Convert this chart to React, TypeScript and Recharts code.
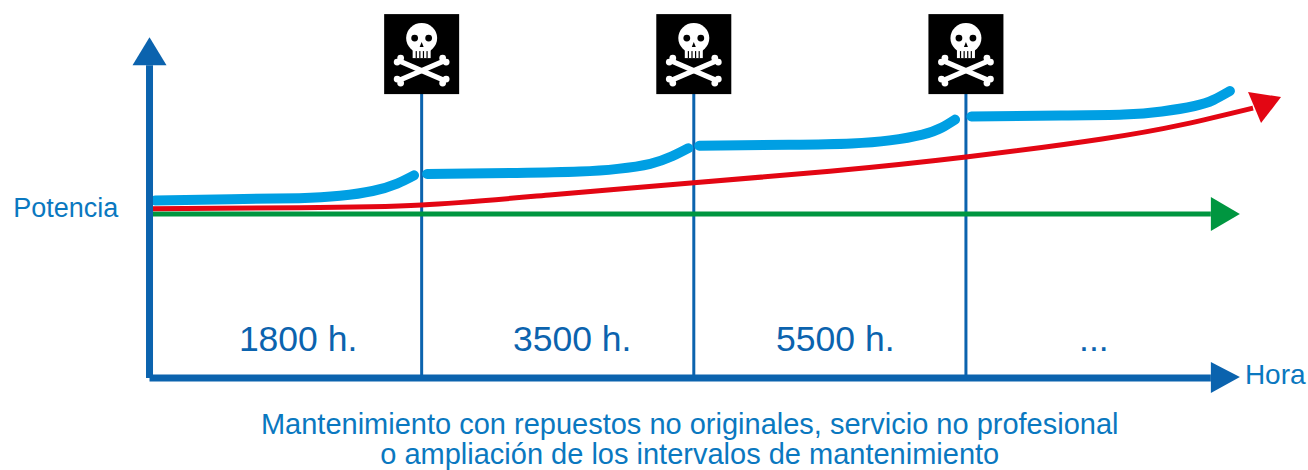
import React from "react";
import { ComposedChart, Line, XAxis, YAxis, ReferenceDot } from "recharts";

// x: maintenance periods (0 = start, each unit = one interval); y: power index
const blue1 = [
  { x: 0.02, y: 52.2 }, { x: 0.3, y: 52.6 }, { x: 0.55, y: 52.9 }, { x: 0.7, y: 53.6 },
  { x: 0.82, y: 55.0 }, { x: 0.91, y: 57.2 }, { x: 0.972, y: 59.6 },
];
const blue2 = [
  { x: 1.02, y: 60.0 }, { x: 1.35, y: 60.3 }, { x: 1.58, y: 60.7 }, { x: 1.72, y: 61.5 },
  { x: 1.84, y: 63.0 }, { x: 1.92, y: 65.2 }, { x: 1.98, y: 67.6 },
];
const blue3 = [
  { x: 2.02, y: 68.3 }, { x: 2.35, y: 68.6 }, { x: 2.58, y: 69.0 }, { x: 2.72, y: 69.9 },
  { x: 2.84, y: 71.6 }, { x: 2.91, y: 73.6 }, { x: 2.96, y: 76.0 },
];
const blue4 = [
  { x: 3.02, y: 76.9 }, { x: 3.35, y: 77.2 }, { x: 3.58, y: 77.5 }, { x: 3.72, y: 78.4 },
  { x: 3.84, y: 80.0 }, { x: 3.91, y: 81.8 }, { x: 3.97, y: 84.4 },
];
const red = [
  { x: 0, y: 49.8 }, { x: 0.55, y: 50.1 }, { x: 1.0, y: 50.9 }, { x: 1.48, y: 53.9 },
  { x: 2.0, y: 57.4 }, { x: 2.5, y: 60.8 }, { x: 3.0, y: 65.0 }, { x: 3.5, y: 70.3 },
  { x: 3.8, y: 74.6 }, { x: 4.055, y: 79.4 },
];
const green = [{ x: 0, y: 48.2 }, { x: 3.9, y: 48.2 }];
const axisX = [{ x: 0, y: 0 }, { x: 3.9, y: 0 }];
const axisY = [{ x: 0, y: 0 }, { x: 0, y: 92 }];
const periods = [1, 2, 3];
const periodLabels = ["1800 h.", "3500 h.", "5500 h.", "..."];
const periodLabelX = [0.546, 1.553, 2.52, 3.47];
const yLabel = "Potencia";
const xLabel = "Hora";
const captionLines = [
  "Mantenimiento con repuestos no originales, servicio no profesional",
  "o ampliación de los intervalos de mantenimiento",
];

const AXIS = "#0b63ae";
const TEXT = "#0a78c0";
const BLUE = "#009fe3";
const RED = "#e30613";
const GREEN = "#009640";
const FONT = "'Liberation Sans', Arial, sans-serif";

const tri = (pts: string, fill: string) => (p: any) => (
  <polygon transform={`translate(${p.cx},${p.cy})`} points={pts} fill={fill} />
);

const txt = (value: string, size: number, anchor: string, fill = TEXT) => (p: any) => (
  <text x={p.cx} y={p.cy} fontSize={size} textAnchor={anchor} fill={fill} fontFamily={FONT}>
    {value}
  </text>
);

const Skull = (p: any) => (
  <g transform={`translate(${p.cx},${p.cy})`}>
    <rect x={-37.5} y={-80} width={75} height={80} fill="#000" />
    <g stroke="#fff" strokeWidth={5} strokeLinecap="round">
      <line x1={-22} y1={-33} x2={22} y2={-14} />
      <line x1={22} y1={-33} x2={-22} y2={-14} />
    </g>
    <g fill="#fff">
      <circle cx={-21} cy={-36} r={3.4} />
      <circle cx={-24.5} cy={-32} r={3.4} />
      <circle cx={21} cy={-36} r={3.4} />
      <circle cx={24.5} cy={-32} r={3.4} />
      <circle cx={-24.5} cy={-15} r={3.4} />
      <circle cx={-21} cy={-11} r={3.4} />
      <circle cx={24.5} cy={-15} r={3.4} />
      <circle cx={21} cy={-11} r={3.4} />
      <ellipse cx={0} cy={-56} rx={15.5} ry={15} />
      <rect x={-9} y={-50} width={18} height={14} />
    </g>
    <circle cx={-7} cy={-56} r={3.4} fill="#000" />
    <circle cx={7} cy={-56} r={3.4} fill="#000" />
    <polygon points="0,-52 2,-47 -2,-47" fill="#000" />
    {[-6, -2.4, 1.2, 4.8].map((t) => (
      <rect key={t} x={t} y={-43} width={1.2} height={7} fill="#000" />
    ))}
  </g>
);

const seg = (data: { x: number; y: number }[], color: string, width: number, key: string, cap = "butt") => (
  <Line
    key={key}
    data={data}
    dataKey="y"
    type="natural"
    stroke={color}
    strokeWidth={width}
    strokeLinecap={cap as any}
    dot={false}
    activeDot={false}
    legendType="none"
    isAnimationActive={false}
  />
);

export default function App() {
  return (
    <div style={{ position: "absolute", left: 0, top: 0, width: 1308, height: 470 }}>
      <ComposedChart
        width={1308}
        height={470}
        margin={{ top: 21, right: 15.5, bottom: 75, left: 122.3 }}
      >
        <XAxis type="number" dataKey="x" domain={[-0.1, 4.2]} hide allowDataOverflow />
        <YAxis type="number" dataKey="y" domain={[-5, 105]} hide allowDataOverflow />
        {periods.map((x) =>
          seg([{ x, y: 0 }, { x, y: 83.5 }], AXIS, 3, `v${x}`)
        )}
        {seg(axisX, AXIS, 7, "ax")}
        {seg(green, GREEN, 5, "g")}
        {seg(blue1, BLUE, 10, "b1", "round")}
        {seg(blue2, BLUE, 10, "b2", "round")}
        {seg(blue3, BLUE, 10, "b3", "round")}
        {seg(blue4, BLUE, 10, "b4", "round")}
        {seg(red, RED, 5, "r")}
        {seg(axisY, AXIS, 7, "ay")}
        <ReferenceDot x={0} y={92} ifOverflow="visible" shape={tri("-17,0 0,-28 17,0", AXIS)} />
        <ReferenceDot x={3.9} y={0} ifOverflow="visible" shape={tri("0,-16 29,-1 0,15", AXIS)} />
        <ReferenceDot x={3.9} y={48.2} ifOverflow="visible" shape={tri("0,-17 29,0 0,17", GREEN)} />
        <ReferenceDot x={4.055} y={79.4} ifOverflow="visible" shape={tri("-5,-16 28,-11 8,15", RED)} />
        {periods.map((x) => (
          <ReferenceDot key={x} x={x} y={83.5} ifOverflow="visible" shape={Skull} />
        ))}
        {periodLabels.map((l, i) => (
          <ReferenceDot
            key={l}
            x={periodLabelX[i]}
            y={8}
            ifOverflow="visible"
            shape={txt(l, 35.5, "middle", AXIS)}
          />
        ))}
        <ReferenceDot x={-0.115} y={47.4} ifOverflow="visible" shape={txt(yLabel, 27, "end")} />
        <ReferenceDot x={4.025} y={-1.7} ifOverflow="visible" shape={txt(xLabel, 28, "start")} />
        <ReferenceDot x={1.985} y={-16.5} ifOverflow="visible" shape={txt(captionLines[0], 29, "middle")} />
        <ReferenceDot x={1.985} y={-25.4} ifOverflow="visible" shape={txt(captionLines[1], 29, "middle")} />
      </ComposedChart>
    </div>
  );
}
